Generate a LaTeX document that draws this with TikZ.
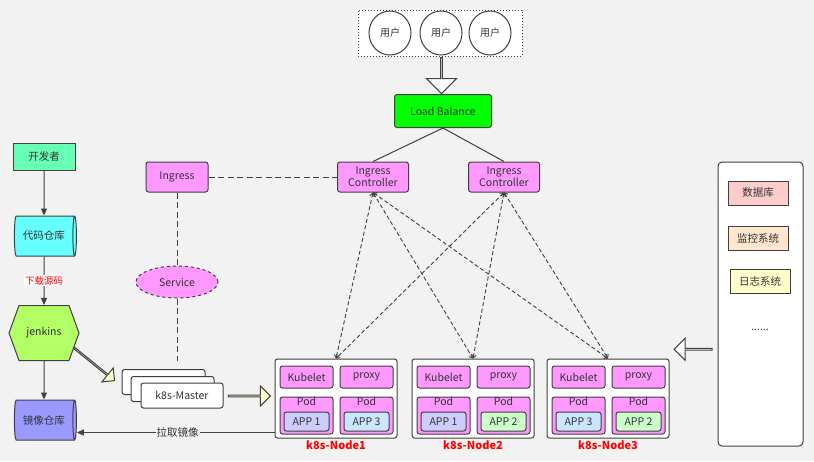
\documentclass[tikz,border=0pt]{standalone}
\usepackage{fontspec}
\setmainfont{Noto Sans CJK SC}
\usetikzlibrary{shapes,shapes.geometric,shapes.arrows,shapes.symbols,calc,positioning}
\usetikzlibrary{arrows.meta,bending}

\definecolor{linec}{HTML}{404040}
\definecolor{bgc}{HTML}{F2F2F2}
\definecolor{pinkc}{HTML}{FF99FF}
\definecolor{lbc}{HTML}{00FF00}
\definecolor{devc}{HTML}{66FFB3}
\definecolor{cyanc}{HTML}{66FFFF}
\definecolor{jenkc}{HTML}{B3FF66}
\definecolor{imgc}{HTML}{9999FF}
\definecolor{appA}{HTML}{CCCCFF}
\definecolor{appB}{HTML}{CCFFCC}
\definecolor{appC}{HTML}{CCE5FF}
\definecolor{dbc}{HTML}{FFCCCC}
\definecolor{monc}{HTML}{FFE6CC}
\definecolor{logc}{HTML}{FFFFCC}

\begin{document}
\begin{tikzpicture}[x=1pt,y=-1pt,text=black!80,
    font=\fontsize{10.5}{12}\selectfont,
    every node/.style={line width=1pt,draw=linec,inner sep=1pt},
    box/.style={rectangle,rounded corners=2.5pt,align=center},
    pinkbox/.style={box,fill=pinkc,minimum width=53,minimum height=22},
    appbox/.style={box,minimum width=45,minimum height=19},
    podbox/.style={box,fill=pinkc,minimum width=53,minimum height=37,
        label={[draw=none,anchor=north,inner sep=0.5pt]north:Pod}},
    k8sbox/.style={box,fill=white,minimum width=122,minimum height=79,
        label={[draw=none,text=red,font=\fontsize{11}{12}\selectfont\bfseries,
        anchor=north,inner sep=2pt]south:#1}},
    repo/.style={cylinder,aspect=0.3,minimum width=40,minimum height=62,
        cylinder uses custom fill,cylinder body fill=#1,cylinder end fill=#1},
    hollow/.style={single arrow,inner sep=0pt,fill=#1},
    solidline/.style={line width=1pt,draw=linec,-{Triangle[length=7pt,width=6pt]}},
    dashline/.style={line width=0.9pt,draw=linec,dash pattern=on 4pt off 2.5pt,
        {Straight Barb[length=3pt,width=5pt]}-{Straight Barb[length=3pt,width=5pt]}},
    pinkdash/.style={line width=1pt,draw=linec,dash pattern=on 6pt off 3.5pt},
  ]

  \fill[bgc] (0,0) rectangle (814,461);
  \useasboundingbox (0,0) rectangle (814,461);

  % users and load balancer
  \node (users) at (440,33) [rectangle,fill=white,dotted,minimum width=164,minimum height=46] {};
  \node (u1) at (390,33) [ellipse,fill=white,minimum width=42,minimum height=44,font=\fontsize{10}{11}\selectfont] {用户};
  \node (u2) at (441,33) [ellipse,fill=white,minimum width=42,minimum height=44,font=\fontsize{10}{11}\selectfont] {用户};
  \node (u3) at (490,33) [ellipse,fill=white,minimum width=42,minimum height=44,font=\fontsize{10}{11}\selectfont] {用户};
  \node (LB) at (443,111) [box,fill=lbc,minimum width=97,minimum height=33] {Load Balance};
  \node (uarr) at ($(users.south)!0.5!(LB.north)$) [hollow=white,rotate=-90,
        minimum height=36,minimum width=30,single arrow head extend=8pt] {};

  \node (IC1) at (373,177) [box,fill=pinkc,minimum width=71,minimum height=30,
        inner sep=0pt,font=\fontsize{10.5}{10.5}\selectfont] {Ingress\\Controller};
  \node (IC2) at (504,177) [box,fill=pinkc,minimum width=71,minimum height=30,
        inner sep=0pt,font=\fontsize{10.5}{10.5}\selectfont] {Ingress\\Controller};
  \node (ING) at (177,177) [box,fill=pinkc,minimum width=62,minimum height=30] {Ingress};
  \node (SVC) at (177,282) [ellipse,fill=pinkc,dashed,minimum width=82,minimum height=32] {Service};
  \coordinate (svcend) at (177,361);

  \draw[line width=1pt,draw=linec] (LB.south) -- (IC1.north);
  \draw[line width=1pt,draw=linec] (LB.south) -- (IC2.north);
  \draw[pinkdash] (ING.east) -- (IC1.west);
  \draw[pinkdash] (ING.south) -- (SVC.north);
  \draw[pinkdash] (SVC.south) -- (svcend);

  % left column: developer to registry
  \node (DEV) at (44,157) [box,rounded corners=0pt,fill=devc,minimum width=62,minimum height=27] {开发者};
  \node (CODE) at (44,236) [repo=cyanc] {代码仓库};
  \node (JEN) at (44,333) [signal,signal to=east and west,signal pointer angle=140,
        fill=jenkc,minimum width=70,minimum height=55] {jenkins};
  \node (IMG) at (44,420) [repo=imgc] {镜像仓库};

  \draw[solidline] (DEV) -- (CODE);
  \draw[solidline] (CODE) -- node[draw=none,fill=white,text=red,inner sep=1pt,
        font=\fontsize{9.5}{10}\selectfont] {下载源码} (JEN);
  \draw[solidline] (JEN) -- (IMG);

  % master
  \node (M3) at (163.5,382) [box,fill=white,minimum width=83,minimum height=25] {};
  \node (M2) at (172.5,389) [box,fill=white,minimum width=83,minimum height=25] {};
  \node (M) at (182,395.5) [box,fill=white,minimum width=82,minimum height=25] {k8s-Master};
  \node (jarr) at (94,364) [hollow=logc,rotate=-39,minimum height=52,minimum width=18,
        single arrow head extend=5pt] {};
  \node (marr) at (249,396) [hollow=logc,minimum height=42,minimum width=20,
        single arrow head extend=6pt] {};

  % k8s nodes
  \node (N1) at (336,398.5) [k8sbox=k8s-Node1] {};
  \node (KB1) at (306.5,377) [pinkbox] {Kubelet};
  \node (PX1) at (366.5,377) [pinkbox] {proxy};
  \node (PA1) at (306.5,415.5) [podbox] {};
  \node (PB1) at (366.5,415.5) [podbox] {};
  \node (AA1) at (306.5,421.5) [appbox,fill=appA] {APP 1};
  \node (AB1) at (366.5,421.5) [appbox,fill=appC] {APP 3};

  \node (N2) at (473,398.5) [k8sbox=k8s-Node2] {};
  \node (KB2) at (443.5,377) [pinkbox] {Kubelet};
  \node (PX2) at (503.5,377) [pinkbox] {proxy};
  \node (PA2) at (443.5,415.5) [podbox] {};
  \node (PB2) at (503.5,415.5) [podbox] {};
  \node (AA2) at (443.5,421.5) [appbox,fill=appA] {APP 1};
  \node (AB2) at (503.5,421.5) [appbox,fill=appB] {APP 2};

  \node (N3) at (608,398.5) [k8sbox=k8s-Node3] {};
  \node (KB3) at (578.5,377) [pinkbox] {Kubelet};
  \node (PX3) at (638.5,377) [pinkbox] {proxy};
  \node (PA3) at (578.5,415.5) [podbox] {};
  \node (PB3) at (638.5,415.5) [podbox] {};
  \node (AA3) at (578.5,421.5) [appbox,fill=appC] {APP 3};
  \node (AB3) at (638.5,421.5) [appbox,fill=appB] {APP 2};

  \draw[dashline] (IC1.south) -- (N1.north);
  \draw[dashline] (IC1.south) -- (N2.north);
  \draw[dashline] (IC1.south) -- (N3.north);
  \draw[dashline] (IC2.south) -- (N1.north);
  \draw[dashline] (IC2.south) -- (N2.north);
  \draw[dashline] (IC2.south) -- (N3.north);

  \coordinate (pull) at ($(N1.south west)+(0,-6)$);
  \draw[solidline] (pull) -- node[draw=none,fill=bgc,inner sep=1pt,pos=0.49] {拉取镜像} (pull -| IMG.east);

  % backing services
  \node (SRV) at (760.5,304) [box,rounded corners=4pt,fill=white,minimum width=85,minimum height=284] {};
  \node (DB) at (758,193) [box,rounded corners=0pt,fill=dbc,minimum width=60,minimum height=24] {数据库};
  \node (MON) at (758,238) [box,rounded corners=0pt,fill=monc,minimum width=60,minimum height=24] {监控系统};
  \node (LOG) at (760,281) [box,rounded corners=0pt,fill=logc,minimum width=60,minimum height=24] {日志系统};
  \node (more) at (760,330) [draw=none] {......};
  \node (sarr) at ($(SRV.west)!0.5!(N3.east)+(0,-2)$) [hollow=white,rotate=180,
        minimum height=38,minimum width=22,single arrow head extend=6pt] {};

\end{tikzpicture}
\end{document}
